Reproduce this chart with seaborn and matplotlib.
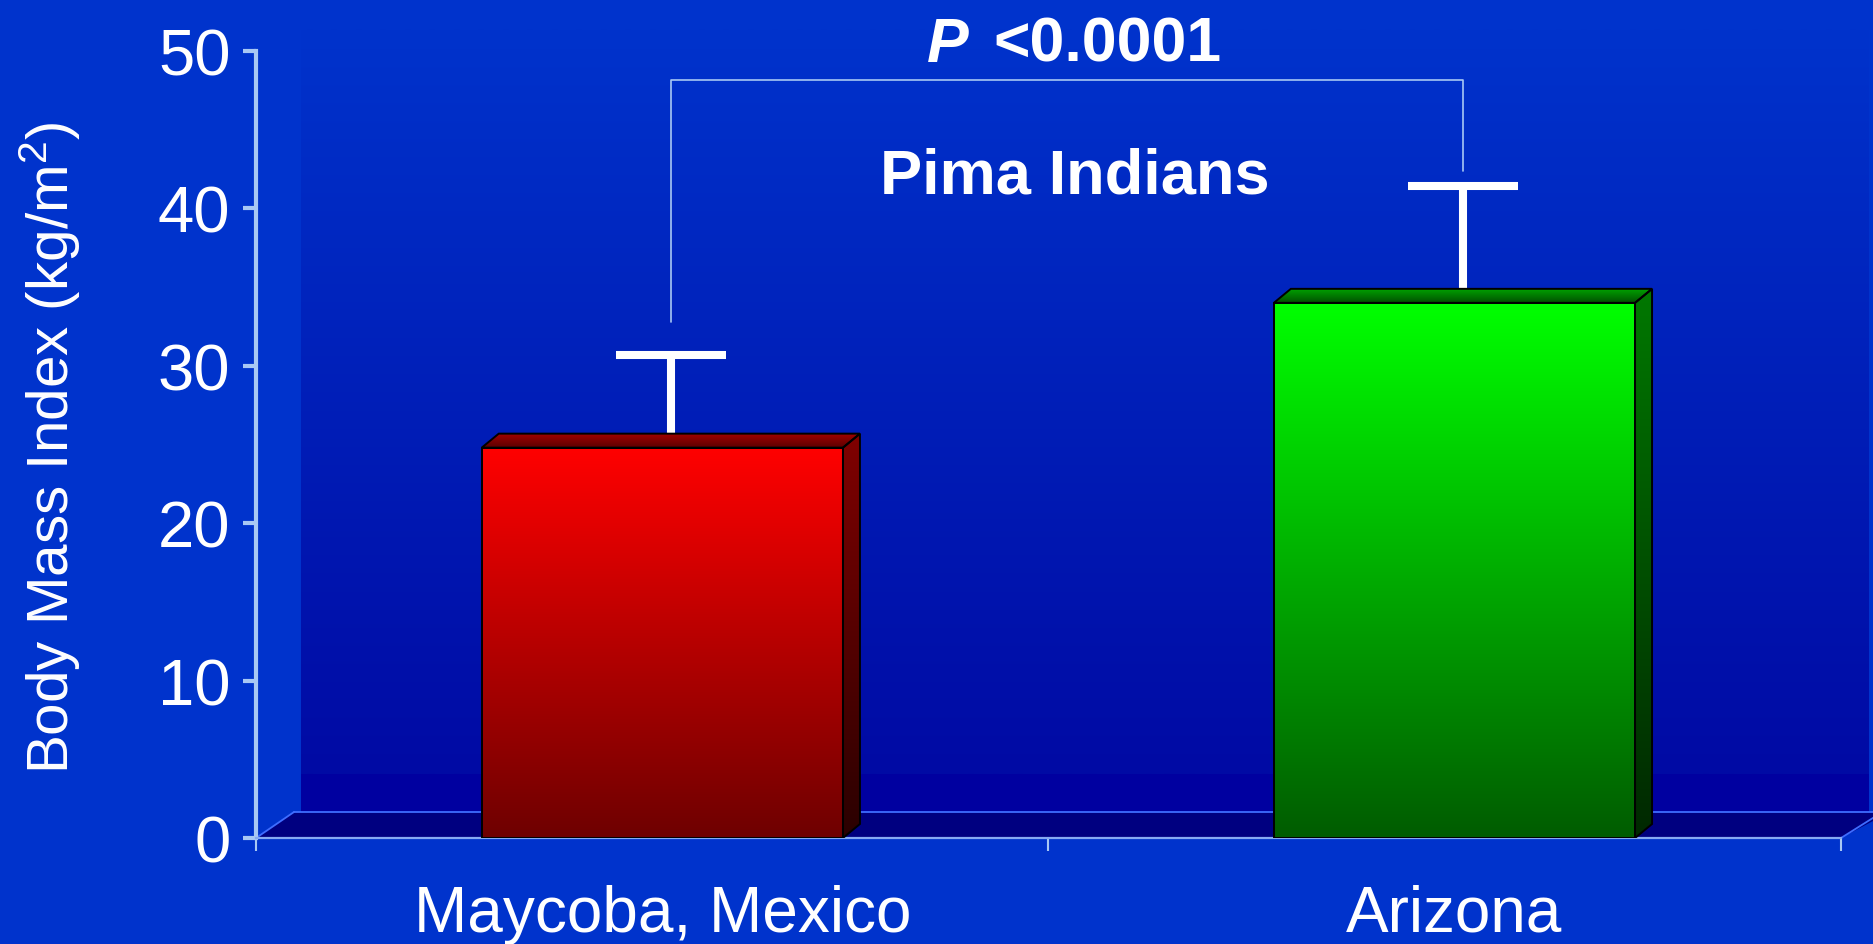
import numpy as np
import pandas as pd
import matplotlib
matplotlib.use("Agg")
import matplotlib.pyplot as plt
import seaborn as sns
from matplotlib.patches import Polygon, Rectangle
from matplotlib.colors import LinearSegmentedColormap

# ---- data -------------------------------------------------------------
sites = ["Maycoba, Mexico", "Arizona"]
bmi_mean = [24.8, 34.0]
bmi_sd = [5.9, 7.4]
bar_colors = ["#ff0000", "#00ff00"]
y_ticks = [0, 10, 20, 30, 40, 50]
p_value_text = "<0.0001"
group_label = "Pima Indians"
y_label = "Body Mass Index (kg/m$^2$)"

# ---- style ------------------------------------------------------------
BG = "#0033cc"
AXIS_BLUE = "#a8c8f4"
EDGE_BLUE = "#3f6dff"
shade = {
    "#ff0000": dict(front=("#ff0000", "#6e0000"), side=("#800000", "#2a0000"),
                    top=("#a00000", "#5a0000")),
    "#00ff00": dict(front=("#00ff00", "#005c00"), side=("#007800", "#002800"),
                    top=("#00a000", "#005000")),
}

sns.set_style("white")
plt.rcParams["font.family"] = ["Liberation Sans", "DejaVu Sans"]
plt.rcParams["mathtext.fontset"] = "custom"
plt.rcParams["mathtext.rm"] = "Liberation Sans"
plt.rcParams["mathtext.it"] = "Liberation Sans:italic"
plt.rcParams["mathtext.bf"] = "Liberation Sans:bold"

W, H = 1874, 945
fig = plt.figure(figsize=(W / 100, H / 100), dpi=100, facecolor=BG)
AX_L, AX_B, AX_W, AX_H = 256, 839, 1585, 787
ax = fig.add_axes([AX_L / W, 1 - AX_B / H, AX_W / W, AX_H / H])
ax.set_facecolor("none")
XLIM = (-0.513, 1.488)
YLIM = (0, 50)

px_x = AX_W / (XLIM[1] - XLIM[0])
px_y = AX_H / (YLIM[1] - YLIM[0])


def px2x(px):
    return XLIM[0] + (px - AX_L) / px_x


def py2y(py):
    return (AX_B - py) / px_y


DX = 17 / px_x   # depth of the 3-D bars, horizontal
DY = 14 / px_y   # depth of the 3-D bars, vertical


def gradient(x0, x1, y0, y1, c_top, c_bot, zorder, clip=None):
    cmap = LinearSegmentedColormap.from_list("g", [c_bot, c_top])
    arr = np.linspace(0, 1, 256).reshape(-1, 1)
    im = ax.imshow(arr, extent=[x0, x1, y0, y1], origin="lower", cmap=cmap,
                   aspect="auto", interpolation="bilinear", zorder=zorder,
                   clip_on=clip is not None)
    if clip is not None:
        im.set_clip_path(clip)
    return im


# ---- bars -------------------------------------------------------------
df = pd.DataFrame({"site": sites, "bmi": bmi_mean})
sns.barplot(data=df, x="site", y="bmi", hue="site", palette=bar_colors,
            width=0.456, errorbar=None, legend=False, ax=ax, zorder=3,
            linewidth=0)
bars = sorted([b for c in ax.containers for b in c], key=lambda p: p.get_x())

# ---- back wall and floor ---------------------------------------------
wall_x0, wall_x1 = px2x(301), px2x(1869)
gradient(wall_x0, wall_x1, py2y(775), py2y(30), BG, "#000aa4", 0.5)
ax.add_patch(Rectangle((wall_x0, py2y(813)), wall_x1 - wall_x0,
                       py2y(775) - py2y(813), facecolor="#0000a0",
                       edgecolor="none", zorder=0.6, clip_on=False))
floor = [(XLIM[0], 0), (px2x(294), py2y(813)), (px2x(1890), py2y(813)),
         (XLIM[1], 0)]
ax.add_patch(Polygon(floor, closed=True, facecolor="#000080",
                     edgecolor="none", zorder=0.7, clip_on=False))
ax.plot([px2x(294), px2x(1890)], [py2y(813)] * 2, color=EDGE_BLUE, lw=1.3,
        zorder=0.8, clip_on=False)
ax.plot([XLIM[0], px2x(294)], [0, py2y(813)], color=EDGE_BLUE, lw=1.3,
        zorder=0.8, clip_on=False)
ax.plot([XLIM[1], px2x(1890)], [0, py2y(813) + 0.3], color=EDGE_BLUE, lw=1.3,
        zorder=0.8, clip_on=False)

err_x = []
for bar, col in zip(bars, bar_colors):
    x0 = bar.get_x()
    x1 = x0 + bar.get_width()
    h = bar.get_height()
    s = shade[col]
    bar.set_facecolor("none")
    bar.set_edgecolor("black")
    bar.set_linewidth(1.4)
    bar.set_zorder(6)
    gradient(x0, x1, 0, h, s["front"][0], s["front"][1], 4, clip=bar)

    side = Polygon([(x1, 0), (x1 + DX, DY), (x1 + DX, h + DY), (x1, h)],
                   closed=True, facecolor="none", edgecolor="black",
                   lw=1.4, zorder=6, transform=ax.transData)
    ax.add_patch(side)
    gradient(x1, x1 + DX, 0, h + DY, s["side"][0], s["side"][1], 4, clip=side)

    top = Polygon([(x0, h), (x0 + DX, h + DY), (x1 + DX, h + DY), (x1, h)],
                  closed=True, facecolor="none", edgecolor="black",
                  lw=1.4, zorder=6, transform=ax.transData)
    ax.add_patch(top)
    gradient(x0, x1 + DX, h, h + DY, s["top"][0], s["top"][1], 4.5, clip=top)
    err_x.append(x0 + bar.get_width() / 2 + DX / 2)

# upper standard-deviation whiskers
ax.errorbar(err_x, bmi_mean, yerr=[np.zeros(len(bmi_sd)), bmi_sd], fmt="none",
            ecolor="white", elinewidth=5.8, capsize=39.6, capthick=5.8,
            zorder=3)

# ---- significance bracket -------------------------------------------
ax.plot([err_x[0], err_x[0], err_x[1], err_x[1]], [32.8, 48.15, 48.15, 42.4],
        color=AXIS_BLUE, lw=1.2, zorder=2, clip_on=False)
ax.text(px2x(969), py2y(62), "P", fontsize=45, fontweight="bold",
        fontstyle="italic", color="white", ha="right", va="baseline",
        clip_on=False)
ax.text(px2x(993), py2y(62), p_value_text, fontsize=45, fontweight="bold",
        color="white", ha="left", va="baseline", clip_on=False)
ax.text(px2x(1075), py2y(194), group_label, fontsize=45.5, fontweight="bold",
        color="white", ha="center", va="baseline", clip_on=False)

# ---- axes ------------------------------------------------------------
ax.set_xlim(*XLIM)
ax.set_ylim(*YLIM)
ax.set_yticks(y_ticks)
ax.set_xticks([0, 1])
ax.set_xticklabels(sites)
ax.set_xticks([XLIM[0], px2x(1048), XLIM[1]], minor=True)
ax.set_xlabel("")
ax.set_ylabel(y_label, fontsize=42, color="white")
ax.yaxis.set_label_coords(-0.109, 0.497)

for side_name in ["top", "right"]:
    ax.spines[side_name].set_visible(False)
ax.spines["left"].set_color(AXIS_BLUE)
ax.spines["left"].set_linewidth(3)
ax.spines["left"].set_zorder(2.5)
ax.spines["bottom"].set_color("#86aaf2")
ax.spines["bottom"].set_linewidth(1.6)

ax.tick_params(axis="y", which="major", length=9.4, width=3, color=AXIS_BLUE,
               pad=9, labelsize=47, labelcolor="white", left=True)
ax.tick_params(axis="x", which="major", length=0, pad=33, labelsize=46,
               labelcolor="white", bottom=True)
ax.tick_params(axis="x", which="minor", length=9, width=1.5, color=AXIS_BLUE,
               bottom=True)

fig.savefig("out.png", dpi=100, facecolor=BG)
